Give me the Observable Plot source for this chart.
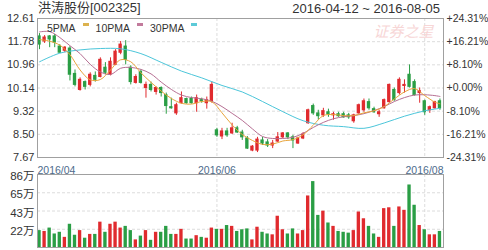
<!DOCTYPE html>
<html><head><meta charset="utf-8">
<script src="https://cdn.jsdelivr.net/npm/d3@7"></script>
<script src="https://cdn.jsdelivr.net/npm/@observablehq/plot@0.6"></script>
<style>
body{margin:0;background:#fff;}
#wrap{position:relative;width:488px;height:250px;overflow:hidden;font-family:Arial,"Liberation Sans","Noto Sans CJK SC",sans-serif;color:#333;}
.abs{position:absolute;white-space:nowrap;line-height:1;}
#wrap svg{position:absolute;left:0;}
#legend{position:absolute;left:47px;top:22px;display:flex;align-items:flex-start;font-size:10.5px;color:#333;}
#legend .sw{display:inline-block;width:6px;height:2.5px;margin:1px 7px 0 7px;}
</style></head><body><div id="wrap"></div>
<script>
// ---- data ----
const titleText = "洪涛股份[002325]";
const rangeText = "2016-04-12 ~ 2016-08-05";
const openP = [11.97, 11.79, 11.97, 11.97, 11.61, 11.46, 11.54, 10.64, 10.07, 10.35,
 10.25, 10.57, 10.53, 10.86, 10.61, 10.96, 11.39, 11.61, 10.86, 10.32,
 10.71, 10.14, 10.25, 10.00, 10.14, 9.89, 9.46, 9.24, 9.60, 9.75,
 9.75, 9.60, 9.71, 9.60, 9.67, 8.64, 8.42, 8.60, 8.53, 8.71,
 8.56, 8.35, 7.92, 7.92, 8.28, 8.21, 8.10, 8.24, 8.39, 8.53,
 8.39, 8.17, 8.35, 8.89, 9.50, 9.24, 9.17, 9.28, 9.17, 9.21,
 9.21, 9.17, 8.96, 9.24, 9.35, 9.64, 9.39, 9.21, 9.42, 9.64,
 10.07, 9.96, 10.21, 10.61, 10.35, 9.96, 9.67, 9.35, 9.42, 9.67];
const closeP = [11.68, 11.93, 11.86, 11.75, 11.39, 11.57, 10.61, 10.25, 10.43, 10.18,
 10.61, 10.43, 11.14, 10.68, 11.07, 11.43, 11.68, 11.14, 10.35, 10.53,
 10.32, 10.25, 10.07, 10.14, 9.96, 9.50, 9.42, 9.53, 9.78, 9.60,
 9.60, 9.78, 9.67, 9.71, 10.25, 8.46, 8.60, 8.46, 8.71, 8.56,
 8.39, 7.99, 8.06, 8.31, 8.17, 8.10, 8.17, 8.39, 8.53, 8.39,
 8.28, 8.35, 8.49, 9.35, 9.24, 9.14, 9.32, 9.21, 9.21, 9.14,
 9.10, 9.10, 9.17, 9.53, 9.67, 9.42, 9.28, 9.28, 9.71, 10.25,
 9.71, 10.43, 10.25, 10.18, 9.89, 10.03, 9.28, 9.46, 9.64, 9.42];
const highP = [12.07, 12.00, 12.00, 12.04, 11.68, 11.61, 11.61, 10.78, 10.50, 10.39,
 10.68, 10.71, 11.21, 11.04, 11.21, 11.50, 11.79, 11.82, 10.93, 10.61,
 10.78, 10.35, 10.35, 10.18, 10.18, 9.96, 9.78, 9.60, 10.00, 9.78,
 9.82, 9.89, 9.78, 9.82, 10.35, 8.71, 8.71, 8.71, 8.89, 8.78,
 8.64, 8.42, 8.10, 8.39, 8.39, 8.31, 8.28, 8.56, 8.56, 8.56,
 8.46, 8.39, 8.56, 9.39, 9.57, 9.35, 9.42, 9.39, 9.28, 9.28,
 9.28, 9.24, 9.21, 9.57, 9.75, 9.75, 9.46, 9.35, 9.75, 10.28,
 10.14, 10.50, 10.43, 10.96, 10.43, 10.14, 9.71, 9.50, 9.67, 9.75];
const lowP = [11.50, 11.72, 11.57, 11.57, 11.36, 11.39, 10.39, 10.18, 10.03, 10.07,
 10.18, 10.35, 10.50, 10.61, 10.57, 10.93, 11.32, 10.96, 10.25, 10.28,
 10.28, 9.78, 10.00, 9.89, 9.82, 9.21, 9.39, 9.17, 9.57, 9.57,
 9.57, 9.28, 9.60, 9.39, 9.60, 8.39, 8.31, 8.39, 8.49, 8.53,
 8.28, 7.96, 7.88, 7.85, 8.10, 8.03, 7.99, 8.21, 8.35, 8.31,
 7.99, 8.14, 8.31, 8.85, 9.17, 9.00, 9.10, 9.10, 9.00, 9.10,
 9.07, 9.03, 8.89, 9.21, 9.28, 9.35, 9.24, 9.10, 9.39, 9.60,
 9.67, 9.89, 9.96, 10.14, 9.85, 9.60, 9.17, 9.24, 9.39, 9.35];
// volume in 万
const volume = [20, 19, 23, 16, 18, 12, 27.5, 14.5, 20, 11,
 15.5, 15.5, 30, 18, 27.5, 30, 23, 25, 20, 9,
 13.5, 20, 8.5, 18, 18, 25, 15.5, 15.5, 21.5, 10,
 10, 14, 12, 11, 23, 21.5, 21.5, 26, 25, 19,
 21, 22, 9, 24, 18, 16, 15, 37, 21, 16,
 22, 16, 20, 61, 78, 38, 43, 29, 25, 19,
 18, 17, 20, 42, 34, 25, 16, 12, 46, 47,
 25, 48, 44, 74, 50, 26, 21, 15, 15, 19];
// moving averages read at sampled candle indices
const maIdx = [0,2,4,6,8,10,12,14,16,18,20,22,24,26,28,30,32,34,36,38,40,42,44,46,48,50,52,54,56,58,60,62,64,66,68,70,72,74,76,78,79];
const ma5 = [11.86, 11.80, 11.66, 11.32, 10.78, 10.43, 10.44, 10.78, 11.14, 11.07, 10.68, 10.34, 10.03, 9.77, 9.60, 9.57, 9.66, 9.65, 9.26, 8.83, 8.49, 8.28, 8.14, 8.15, 8.26, 8.31, 8.48, 8.82, 9.16, 9.20, 9.16, 9.16, 9.26, 9.33, 9.48, 9.75, 10.00, 10.12, 9.87, 9.64, 9.58];
const ma10 = [12.13, 12.14, 11.93, 11.64, 11.36, 10.98, 10.71, 10.62, 10.84, 10.87, 10.80, 10.64, 10.35, 10.09, 9.89, 9.80, 9.76, 9.67, 9.48, 9.24, 8.99, 8.69, 8.42, 8.35, 8.35, 8.39, 8.53, 8.74, 8.92, 9.05, 9.12, 9.16, 9.23, 9.34, 9.48, 9.66, 9.80, 9.89, 9.90, 9.87, 9.84];
const ma30Idx = [0,4,8,12,16,20,24,28,32,36,40,44,48,52,56,60,64,68,72,76,79];
const ma30 = [11.07, 11.375, 11.49, 11.54, 11.53, 11.36, 11.05, 10.74, 10.50, 10.23, 10.00, 9.66, 9.30, 8.98, 8.82, 8.77, 8.71, 8.90, 9.14, 9.33, 9.42];
const priceTicks = [12.605, 11.783, 10.962, 10.14, 9.318, 8.497, 7.675];
const priceLabels = ["12.61", "11.78", "10.96", "10.14", "9.32", "8.50", "7.67"];
const pctLabels = ["+24.31%", "+16.21%", "+8.10%", "+0.00%", "-8.10%", "-16.21%", "-24.31%"];
const volTicks = [86.4, 64.8, 43.2, 21.6];
const volLabels = ["86万", "65万", "43万", "22万"];
const monthIdx = [0, 35, 76];
const monthLabels = ["2016/04", "2016/06", "2016/08"];
const legendItems = [["5PMA", "#dcb24e"], ["10PMA", "#c27a9c"], ["30PMA", "#5ccad8"]];
const watermark = "证券之星";

// ---- styles ----
const RED = "#e02a2e", GREEN = "#2a9e45";
const C5 = "#e8a53c", C10 = "#b66f93", C30 = "#4cc6da";
const FONT = 'Arial,"Liberation Sans","Noto Sans CJK SC",sans-serif';
const GRID = "#dcdcdc";

const candles = openP.map((o, i) => ({i, o, c: closeP[i], h: highP[i], l: lowP[i], v: volume[i], col: closeP[i] >= o ? RED : GREEN}));
const xDom = [-0.4, 79.7];
const half = 0.33;
const maLine = (idx, vals) => idx.map((i, k) => ({i, v: vals[k]}));

const wrap = document.getElementById("wrap");

const main = Plot.plot({
  width: 488, height: 165,
  marginLeft: 37, marginRight: 45, marginTop: 18, marginBottom: 8,
  x: {domain: xDom, axis: null},
  y: {domain: [priceTicks[6], priceTicks[0]], axis: null},
  style: {fontFamily: FONT, fontSize: "11px", color: "#333", background: "transparent", overflow: "visible"},
  marks: [
    Plot.ruleY(priceTicks.slice(1, -1), {stroke: GRID, strokeDasharray: "3,2"}),
    Plot.ruleX(monthIdx.slice(1), {stroke: GRID, strokeDasharray: "3,2"}),
    Plot.text([watermark], {frameAnchor: "top-right", dx: -10, dy: 8, fill: "#f7d6d6", fontSize: 15, fontStyle: "italic", fontFamily: '"Noto Sans CJK SC",sans-serif', textAnchor: "end"}),
    Plot.ruleX(candles, {x: "i", y1: "l", y2: "h", stroke: "col", strokeWidth: 1}),
    Plot.rect(candles, {x1: d => d.i - half, x2: d => d.i + half, y1: "o", y2: "c", fill: "col", insetTop: -0.5, insetBottom: -0.5}),
    Plot.line(maLine(ma30Idx, ma30), {x: "i", y: "v", stroke: C30, strokeWidth: 1, curve: "catmull-rom"}),
    Plot.line(maLine(maIdx, ma10), {x: "i", y: "v", stroke: C10, strokeWidth: 1, curve: "catmull-rom"}),
    Plot.line(maLine(maIdx, ma5), {x: "i", y: "v", stroke: C5, strokeWidth: 1, curve: "catmull-rom"}),
    Plot.frame({stroke: "#a0a0a0"}),
    Plot.text(priceTicks, {y: d => d, text: (d, k) => priceLabels[k], frameAnchor: "left", dx: -3, textAnchor: "end", fill: "#333", fontSize: 11}),
    Plot.text(priceTicks, {y: d => d, text: (d, k) => pctLabels[k], frameAnchor: "right", dx: 3, textAnchor: "start", fill: "#333", fontSize: 10.5})
  ]
});
main.style.top = "0px";
wrap.appendChild(main);

const vol = Plot.plot({
  width: 488, height: 90,
  marginLeft: 37, marginRight: 45, marginTop: 14, marginBottom: 3,
  x: {domain: xDom, axis: null},
  y: {domain: [0, volTicks[0]], axis: null},
  style: {fontFamily: FONT, fontSize: "11px", color: "#333", background: "transparent", overflow: "visible"},
  marks: [
    Plot.ruleY(volTicks.slice(1), {stroke: GRID, strokeDasharray: "3,2"}),
    Plot.ruleX(monthIdx.slice(1), {stroke: GRID, strokeDasharray: "3,2"}),
    Plot.rect(candles, {x1: d => d.i - half, x2: d => d.i + half, y1: 0, y2: "v", fill: "col"}),
    Plot.frame({stroke: "#a0a0a0"}),
    Plot.text(volTicks, {y: d => d, text: (d, k) => volLabels[k], frameAnchor: "left", dx: -3, dy: 2, textAnchor: "end", fill: "#333", fontSize: 11.5}),
    Plot.text([monthLabels[0]], {frameAnchor: "top-left", dy: -8, textAnchor: "start", fill: "#4d6b8c", fontSize: 10.5}),
    Plot.text([{i: monthIdx[1], t: monthLabels[1]}], {x: "i", text: "t", frameAnchor: "top", dy: -8, fill: "#4d6b8c", fontSize: 10.5}),
    Plot.text([monthLabels[2]], {frameAnchor: "top-right", dy: -8, textAnchor: "end", fill: "#4d6b8c", fontSize: 10.5})
  ]
});
vol.style.top = "160px";
wrap.appendChild(vol);

const t = document.createElement("div");
t.className = "abs"; t.textContent = titleText;
t.style.cssText += "left:38px;top:1px;font-size:13px;";
wrap.appendChild(t);
const r = document.createElement("div");
r.className = "abs"; r.textContent = rangeText;
r.style.cssText += "right:48px;top:2px;font-size:13px;";
wrap.appendChild(r);

const lg = document.createElement("div");
lg.id = "legend";
legendItems.forEach(([name, col]) => {
  const s = document.createElement("span"); s.textContent = name; lg.appendChild(s);
  const w = document.createElement("span"); w.className = "sw"; w.style.background = col; lg.appendChild(w);
});
wrap.appendChild(lg);
</script></body></html>
